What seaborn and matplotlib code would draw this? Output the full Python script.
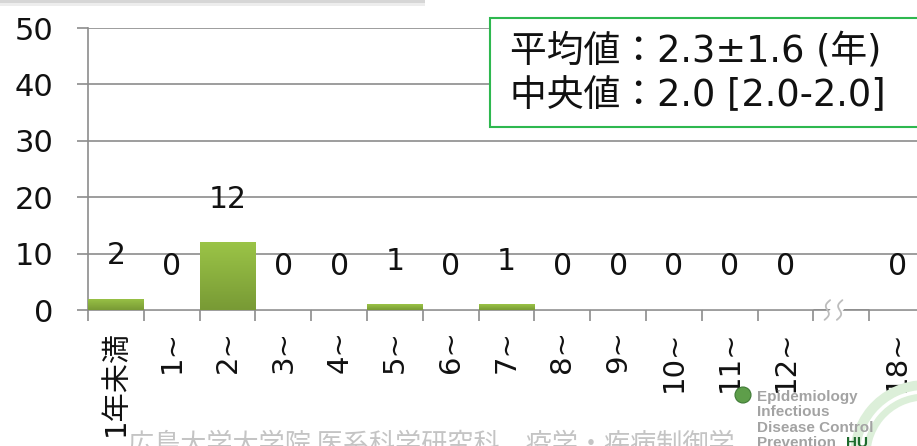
import numpy as np
import pandas as pd
import matplotlib
matplotlib.use("Agg")
import matplotlib.pyplot as plt
import seaborn as sns
from matplotlib.colors import LinearSegmentedColormap
from matplotlib.patches import Rectangle, Ellipse, Arc

# ---- data ----
categories = ["1年未満", "1~", "2~", "3~", "4~", "5~", "6~", "7~", "8~",
              "9~", "10~", "11~", "12~", "18~"]
counts = [2, 0, 12, 0, 0, 1, 0, 1, 0, 0, 0, 0, 0, 0]
gap_label = " "
order = categories[:13] + [gap_label] + categories[13:]
y_ticks = [0, 10, 20, 30, 40, 50]
stats_lines = ["平均値：2.3±1.6 (年)", "中央値：2.0 [2.0-2.0]"]
footer_text = "広島大学大学院 医系科学研究科　疫学・疾病制御学"
logo_lines = ["Epidemiology", "Infectious", "Disease Control", "Prevention"]

df = pd.DataFrame({"cat": categories, "n": counts})

sns.set_theme(style="white")
plt.rcParams["font.family"] = ["DejaVu Sans", "Noto Sans CJK JP"]

W, H = 917, 446
fig = plt.figure(figsize=(W / 100, H / 100), dpi=100)
fig.patch.set_facecolor("white")

left_px, right_px, bottom_px, top_px = 88, 917, 310, 28
ax = fig.add_axes([left_px / W, 1 - bottom_px / H,
                   (right_px - left_px) / W, (bottom_px - top_px) / H])

sns.barplot(data=df, x="cat", y="n", order=order, ax=ax, width=1.0,
            color="#8DB545", saturation=1, errorbar=None, zorder=3)

cat_w = 55.8
xmax = -0.5 + (right_px - left_px) / cat_w

# gradient fill for bars
cmap = LinearSegmentedColormap.from_list("g", ["#789A35", "#9BC447"])
grad = np.linspace(0, 1, 256).reshape(-1, 1)
for p in list(ax.patches):
    h = p.get_height()
    if h and h > 0:
        x0 = p.get_x()
        w = p.get_width()
        im = ax.imshow(grad, extent=[x0, x0 + w, 0, h], origin="lower",
                       aspect="auto", cmap=cmap, zorder=3.5)
        im.set_clip_path(p)
        p.set_facecolor("none")
        p.set_edgecolor("none")

# grid and spines
grid_c = "#8C8C8C"
ax.set_yticks(y_ticks)
ax.set_yticklabels([str(v) for v in y_ticks], fontsize=22, color="#111111")
ax.yaxis.grid(True, color=grid_c, linewidth=1.2, zorder=0)
ax.set_axisbelow(True)
ax.tick_params(axis="y", length=8, width=1.2, color=grid_c, pad=17, left=True)
for s in ["top", "right"]:
    ax.spines[s].set_visible(False)
for s in ["left", "bottom"]:
    ax.spines[s].set_color(grid_c)
    ax.spines[s].set_linewidth(1.2)

xt = np.arange(len(order))
ax.set_xticks(xt)
ax.set_xticklabels(order, rotation=90, fontsize=21, color="#111111",
                   va="top", ha="center")
ax.set_xticks(np.arange(len(order) + 1) - 0.5, minor=True)
ax.tick_params(axis="x", which="major", length=0, pad=14.5, bottom=True)
ax.tick_params(axis="x", which="minor", length=8, width=1.2, color=grid_c,
               bottom=True)
ax.set_xlabel("")
ax.set_ylabel("")

# limits after ticks (set_xticks can widen the view)
ax.set_xlim(-0.5, xmax)
ax.set_ylim(0, 50)

# data labels
for i, lab in enumerate(order):
    if lab == gap_label:
        continue
    v = counts[categories.index(lab)]
    ax.annotate(str(v), (i, v), xytext=(0, 31), textcoords="offset points",
                ha="center", va="center", fontsize=21.5, color="#111111",
                zorder=5)

# axis break mark in the gap slot
gi = order.index(gap_label) - 0.1
t = np.linspace(0, 1, 50)
ax.fill([gi - 0.24, gi - 0.03, gi + 0.27, gi + 0.06],
        [-1.75, -1.75, 1.75, 1.75], color="white", zorder=6, clip_on=False)
for dx in (-0.2, 0.02):
    xs = gi + dx + t * 0.1 + 0.05 * np.sin(2 * np.pi * t)
    ys = -1.75 + t * 3.5
    ax.plot(xs, ys, color="#BDBDBD", lw=1.3, zorder=7, clip_on=False)
ax.set_xlim(-0.5, xmax)
ax.set_ylim(0, 50)

# stats box
fig.patches.append(Rectangle((490 / W, 1 - 127 / H), 0.6, (127 - 18) / H,
                             transform=fig.transFigure, facecolor="white",
                             edgecolor="#2EB84F", linewidth=1.5, zorder=10))
fig.text(510 / W, 1 - 61 / H, stats_lines[0], fontsize=26.5, va="baseline",
         ha="left", color="#111111", zorder=11)
fig.text(510 / W, 1 - 106 / H, stats_lines[1], fontsize=26.5, va="baseline",
         ha="left", color="#111111", zorder=11)

# top shadow band
fig.patches.append(Rectangle((0, 1 - 3 / H), 425 / W, 3 / H,
                             transform=fig.transFigure, facecolor="#D6D6D6",
                             edgecolor="none", zorder=1))
fig.patches.append(Rectangle((0, 1 - 6 / H), 425 / W, 3 / H,
                             transform=fig.transFigure, facecolor="#EDEDED",
                             edgecolor="none", zorder=1))

# footer watermark
fig.text(128 / W, 1 - 431 / H, footer_text, fontsize=18.8, color="#C4C4C4",
         va="top", ha="left", family=["Noto Sans CJK JP"])

# logo decoration
for r, lw in ((70, 7), (58, 5)):
    fig.patches.append(Arc((925 / W, 1 - 455 / H), 2 * r / W, 2 * r / H,
                           theta1=90, theta2=200, transform=fig.transFigure,
                           color="#DCEFD9", linewidth=lw, zorder=1))
fig.patches.append(Ellipse((743 / W, 1 - 395 / H), 16 / W, 16 / H,
                           transform=fig.transFigure, facecolor="#5E9E4A",
                           edgecolor="#3F7A36", linewidth=0.8, zorder=2))
for k, line in enumerate(logo_lines):
    fig.text(757 / W, 1 - (397 + 15.3 * k) / H, line, fontsize=11,
             fontweight="bold", color="#A3A3A3", va="center", ha="left",
             family=["Liberation Sans"], zorder=3)
fig.text(846 / W, 1 - (397 + 15.3 * 3) / H, "HU", fontsize=11,
         fontweight="bold", color="#1F6B2E", va="center", ha="left",
         family=["Liberation Sans"], zorder=3)

fig.savefig("out.png", dpi=100)
